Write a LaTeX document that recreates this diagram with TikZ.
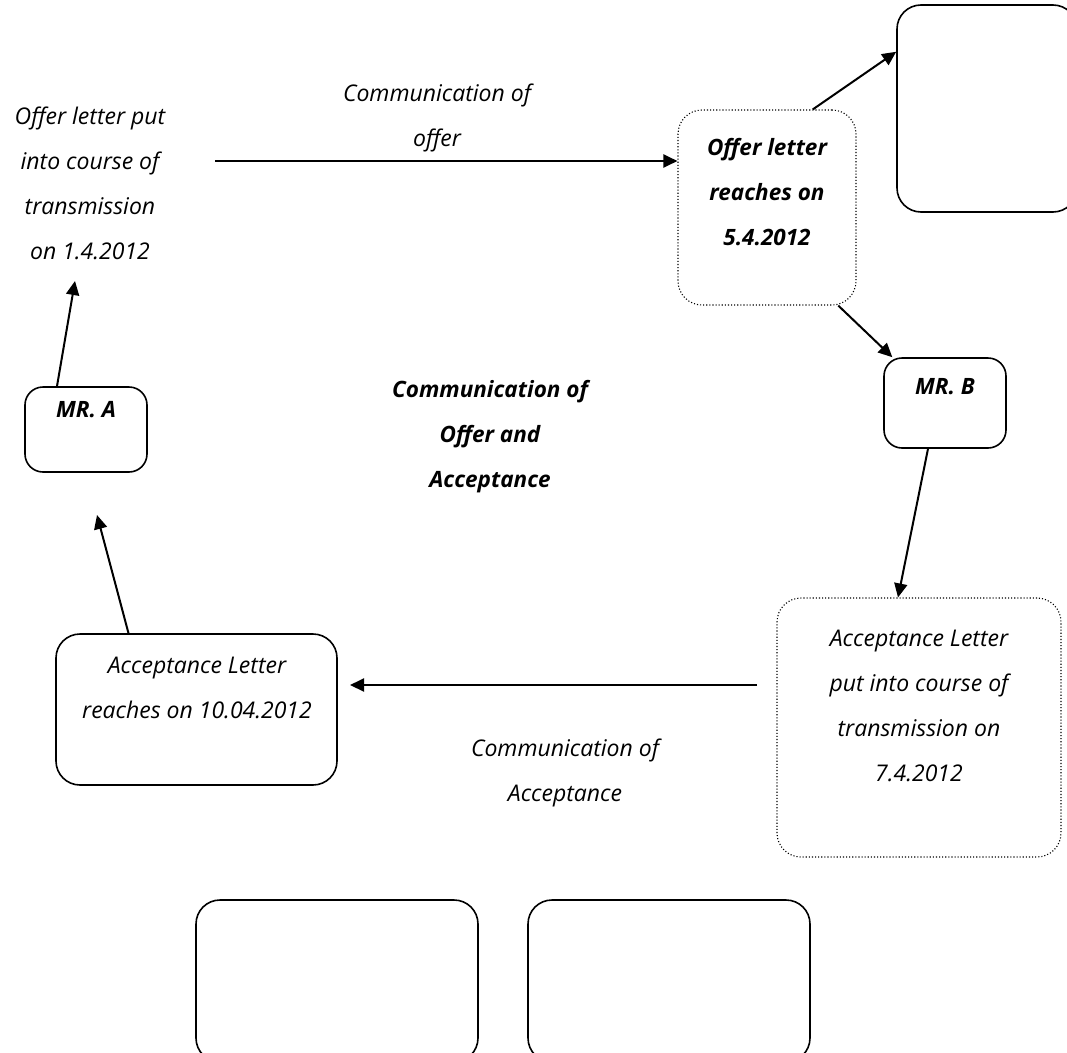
\documentclass[tikz,border=0pt]{standalone}
\usepackage{fontspec}
\setmainfont{Open Sans}
\usetikzlibrary{arrows.meta}
\newcommand\handfont{\fontsize{23}{45}\selectfont\itshape}
\newcommand\handbold{\fontsize{22.5}{45}\selectfont\bfseries\itshape}
\tikzset{
  lbl/.style={font=\handfont, align=center, inner sep=0pt},
  boldlbl/.style={font=\handbold, align=center, inner sep=0pt},
  solidbox/.style={draw, line width=1.6pt, rounded corners=24pt, inner sep=0pt},
  dotbox/.style={draw, dotted, line width=1.1pt, rounded corners=24pt, inner sep=0pt},
  arr/.style={line width=2pt, -{Triangle[length=14pt,width=13pt]}},
}
\begin{document}
\begin{tikzpicture}[x=1pt,y=-1pt]
  \useasboundingbox (0,0) rectangle (1067,1052);
  \clip (0,0) rectangle (1067,1052);

  % boxes
  \node[solidbox, minimum width=180pt, minimum height=207pt] (tr) at (987,108.5) {};
  \node[dotbox, minimum width=178pt, minimum height=195pt] (offer) at (767,207.5) {};
  \node[solidbox, rounded corners=18pt, minimum width=122pt, minimum height=85pt] (mra) at (86,429.5) {};
  \node[solidbox, rounded corners=18pt, minimum width=122pt, minimum height=90pt] (mrb) at (945,403) {};
  \node[solidbox, minimum width=281pt, minimum height=151pt] (reach) at (196.5,709.5) {};
  \node[dotbox, minimum width=284pt, minimum height=259pt] (acc) at (919,727.5) {};
  \node[solidbox, minimum width=282pt, minimum height=162pt] (b1) at (337,981) {};
  \node[solidbox, minimum width=282pt, minimum height=162pt] (b2) at (669,981) {};

  % texts
  \node[lbl] (t1) at (90,183) {Offer letter put\\into course of\\transmission\\on 1.4.2012};
  \node[lbl] (t2) at (437,118) {Communication of\\offer};
  \node[boldlbl] (t3) at (767,192) {Offer letter\\reaches on\\5.4.2012};
  \node[boldlbl] (t4) at (86,410) {MR. A};
  \node[boldlbl] (t5) at (945,387) {MR. B};
  \node[boldlbl] (t6) at (490,437) {Communication of\\Offer and\\Acceptance};
  \node[lbl] (t7) at (197,688) {Acceptance Letter\\reaches on 10.04.2012};
  \node[lbl] (t8) at (565,773) {Communication of\\Acceptance};
  \node[lbl] (t9) at (919,706) {Acceptance Letter\\put into course of\\transmission on\\7.4.2012};

  % free arrow ends
  \coordinate (o1) at (215,161);
  \coordinate (a1) at (757,685);
  \coordinate (a2) at (350,685);
  \coordinate (up1) at (75,281);
  \coordinate (up2) at (97,515);

  % connectors
  \draw[arr] (o1) -- (offer.west |- o1);
  \draw[arr] (offer.65) -- (tr.148);
  \draw[arr] (offer.-54) -- (mrb.139);
  \draw[arr] ([xshift=-17pt]mrb.south) -- ([xshift=-21pt]acc.north);
  \draw[arr] (a1) -- (a2);
  \draw[arr] ([xshift=-68pt]reach.north) -- (up2);
  \draw[arr] ([xshift=-29pt]mra.north) -- (up1);
\end{tikzpicture}
\end{document}
